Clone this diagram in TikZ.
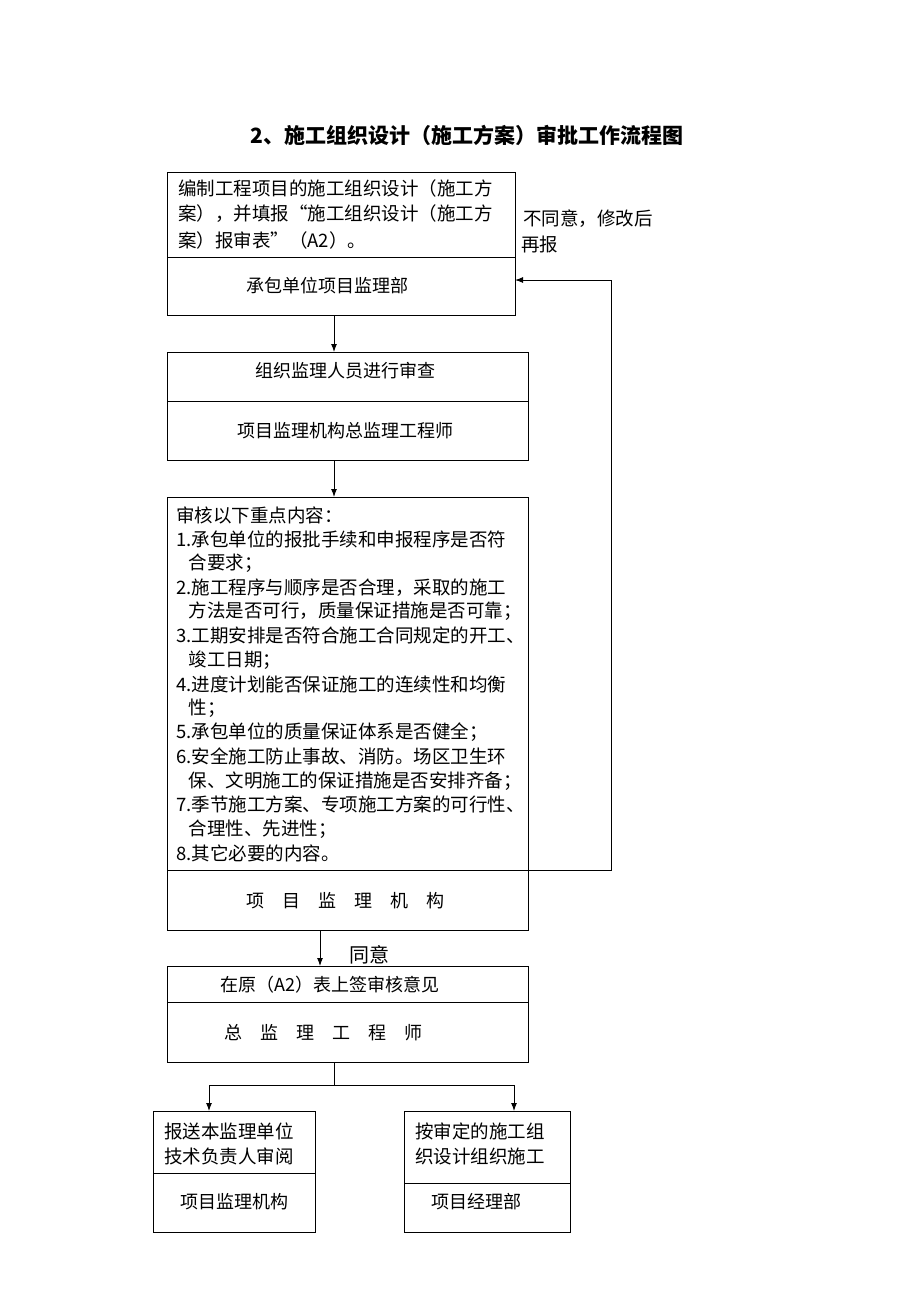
\documentclass[tikz,border=0pt]{standalone}
\usepackage{fontspec}
\setmainfont{Liberation Serif}
\newfontfamily\cjk{Noto Sans CJK SC}
\usetikzlibrary{arrows.meta}
\begin{document}
\begin{tikzpicture}[x=1pt,y=-1pt,
 box/.style={draw,line width=0.9pt},
 ln/.style={line width=0.9pt},
 arr/.style={line width=1pt,-{Latex[length=8pt,width=6pt]}},
 tx/.style={font=\cjk\fontsize{18.5}{20}\selectfont,inner sep=0pt,anchor=west},
 ct/.style={font=\cjk\fontsize{18}{20}\selectfont,inner sep=0pt}]
\useasboundingbox (0,0) rectangle (920,1302);
\node[font=\cjk\bfseries\fontsize{21}{24}\selectfont] (title) at (467,135) {2、施工组织设计（施工方案）审批工作流程图};
% box1
\draw[box] (167,172) rectangle (515,315); \draw[ln] (167,257)--(515,257);
\coordinate (b1t) at (334,315); \coordinate (b1r) at (515,280);
\node[tx] at (178,188) {编制工程项目的施工组织设计（施工方};
\node[tx] at (178,214) {案），并填报“施工组织设计（施工方};
\node[tx] at (178,240) {案）报审表”（A2）。};
\node[ct] at (327,286) {承包单位项目监理部};
% box2
\draw[box] (167,352) rectangle (528,460); \draw[ln] (167,401)--(528,401);
\coordinate (b2t) at (334,352); \coordinate (b2b) at (334,460);
\node[ct] at (345,371) {组织监理人员进行审查};
\node[ct] at (345,431) {项目监理机构总监理工程师};
% box3
\draw[box] (167,497) rectangle (528,930); \draw[ln] (167,870)--(528,870);
\coordinate (b3t) at (334,497); \coordinate (b3r) at (528,870); \coordinate (b3b) at (320,930);
\foreach \t [count=\i from 0] in {审核以下重点内容：,1.承包单位的报批手续和申报程序是否符,\ \ \ 合要求；,2.施工程序与顺序是否合理，采取的施工,\ \ \ 方法是否可行，质量保证措施是否可靠；,3.工期安排是否符合施工合同规定的开工、,\ \ \ 竣工日期；,4.进度计划能否保证施工的连续性和均衡,\ \ \ 性；,5.承包单位的质量保证体系是否健全；,6.安全施工防止事故、消防。场区卫生环,\ \ \ 保、文明施工的保证措施是否安排齐备；,7.季节施工方案、专项施工方案的可行性、,\ \ \ 合理性、先进性；,8.其它必要的内容。}
  \node[tx] at (176,{515+24.15*\i}) {\t};
\node[ct] at (345,901) {项\quad 目\quad 监\quad 理\quad 机\quad 构};
% feedback
\coordinate (c1) at (611,870); \coordinate (c2) at (611,280);
\draw[arr] (b3r)--(c1)--(c2)--(b1r);
\node[tx] at (523,219) {不同意，修改后};
\node[tx] at (521,244) {再报};
\draw[arr] (b1t)--(b2t);
\draw[arr] (b2b)--(b3t);
% box4
\draw[box] (167,966) rectangle (528,1062); \draw[ln] (167,1002)--(528,1002);
\coordinate (b4t) at (320,966); \coordinate (b4b) at (334,1062);
\draw[arr] (b3b)--(b4t);
\node[ct,font=\cjk\fontsize{20}{22}\selectfont] at (369,955) {同意};
\node[ct] at (330,985) {在原（A2）表上签审核意见};
\node[ct] at (323,1033) {总\quad 监\quad 理\quad 工\quad 程\quad 师};
% split
\coordinate (s) at (334,1085); \coordinate (sl) at (209,1085); \coordinate (sr) at (514,1085);
\coordinate (b5t) at (209,1111); \coordinate (b6t) at (514,1111);
\draw[ln] (b4b)--(s); \draw[ln] (sl)--(sr);
\draw[arr] (sl)--(b5t); \draw[arr] (sr)--(b6t);
% box5
\draw[box] (153,1111) rectangle (315,1232); \draw[ln] (153,1173)--(315,1173);
\node[tx] at (164,1131) {报送本监理单位};
\node[tx] at (164,1156) {技术负责人审阅};
\node[ct] at (234,1202) {项目监理机构};
% box6
\draw[box] (404,1111) rectangle (570,1232); \draw[ln] (404,1183)--(570,1183);
\node[tx] at (415,1131) {按审定的施工组};
\node[tx] at (415,1156) {织设计组织施工};
\node[ct] at (476,1202) {项目经理部};
\end{tikzpicture}
\end{document}
